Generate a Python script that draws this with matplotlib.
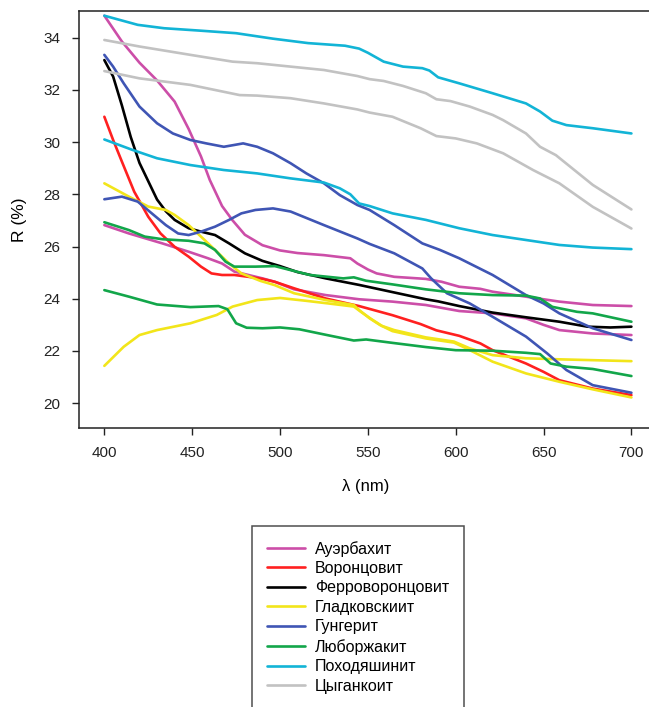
import matplotlib
matplotlib.use("Agg")
import matplotlib.pyplot as plt

plt.rcParams['font.family'] = ['Liberation Sans', 'DejaVu Sans']

# Ауэрбахит (две кривые)
wl_auer1 = [400, 410, 420, 430, 440, 448, 455, 460, 467, 473, 480, 490, 500, 510, 525, 540, 544, 550, 555,
            565, 583, 592, 602, 614, 621, 640, 659, 678, 700]
r_auer1 = [34.84, 33.85, 33.04, 32.36, 31.55, 30.5, 29.45, 28.55, 27.55, 27.0, 26.45, 26.05, 25.85, 25.75,
           25.67, 25.55, 25.35, 25.12, 24.97, 24.84, 24.76, 24.65, 24.46, 24.38, 24.27, 24.08, 23.89, 23.76, 23.72]
wl_auer2 = [400, 414, 433, 448, 459, 467, 474, 482, 490, 497, 508, 526, 545, 564, 583, 602, 621, 640, 650,
            659, 678, 700]
r_auer2 = [26.82, 26.50, 26.12, 25.80, 25.55, 25.35, 25.04, 24.91, 24.78, 24.65, 24.36, 24.14, 23.98, 23.89,
           23.76, 23.53, 23.44, 23.25, 23.0, 22.80, 22.67, 22.61]

# Воронцовит
wl_vor = [400, 405, 410, 417, 425, 432, 440, 448, 455, 461, 467, 474, 482, 490, 497, 508, 526, 545, 564,
          580, 589, 602, 614, 621, 640, 650, 659, 678, 700]
r_vor = [30.97, 30.08, 29.25, 28.1, 27.14, 26.5, 25.99, 25.61, 25.23, 24.97, 24.91, 24.91, 24.84, 24.76,
         24.65, 24.40, 24.01, 23.72, 23.37, 23.03, 22.79, 22.58, 22.29, 22.03, 21.52, 21.20, 20.88, 20.56, 20.31]

# Ферроворонцовит
wl_ferro = [400, 405, 410, 415, 420, 425, 430, 435, 440, 448, 455, 463, 471, 480, 490, 500, 510, 526, 545,
            565, 583, 590, 602, 621, 640, 659, 675, 688, 700]
r_ferro = [33.14, 32.51, 31.4, 30.2, 29.2, 28.5, 27.8, 27.35, 27.02, 26.70, 26.57, 26.44, 26.12, 25.74,
           25.45, 25.25, 25.02, 24.78, 24.53, 24.24, 23.98, 23.90, 23.72, 23.47, 23.29, 23.12, 22.93, 22.90, 22.93]

# Гладковскиит (две кривые)
wl_glad1 = [400, 414, 425, 435, 440, 448, 455, 463, 471, 478, 489, 497, 508, 526, 542, 545, 551, 557, 564,
            583, 599, 606, 621, 640, 659, 678, 700]
r_glad1 = [28.42, 27.91, 27.53, 27.40, 27.21, 26.82, 26.38, 25.87, 25.35, 24.97, 24.68, 24.52, 24.21, 23.95,
           23.76, 23.57, 23.25, 22.99, 22.76, 22.48, 22.32, 22.10, 21.59, 21.14, 20.82, 20.53, 20.22]
wl_glad2 = [400, 411, 420, 430, 449, 464, 473, 487, 500, 515, 530, 542, 546, 552, 558, 565, 583, 599, 608,
            621, 640, 659, 700]
r_glad2 = [21.43, 22.16, 22.61, 22.80, 23.06, 23.38, 23.70, 23.95, 24.03, 23.92, 23.80, 23.70, 23.50, 23.22,
           22.96, 22.80, 22.52, 22.36, 22.10, 21.84, 21.72, 21.68, 21.61]

# Гунгерит (две кривые)
wl_gung1 = [400, 405, 411, 420, 430, 439, 449, 458, 468, 474, 479, 487, 496, 506, 515, 525, 534, 544, 551,
            565, 581, 591, 602, 621, 640, 650, 659, 678, 700]
r_gung1 = [33.34, 32.89, 32.25, 31.36, 30.72, 30.33, 30.08, 29.95, 29.82, 29.89, 29.95, 29.82, 29.57, 29.19,
           28.80, 28.42, 27.97, 27.59, 27.40, 26.82, 26.12, 25.87, 25.55, 24.91, 24.14, 23.82, 23.44, 22.87, 22.42]
wl_gung2 = [400, 410, 419, 427, 435, 442, 448, 455, 463, 471, 478, 486, 496, 506, 525, 544, 551, 565, 581,
            586, 595, 608, 621, 640, 652, 663, 678, 700]
r_gung2 = [27.81, 27.91, 27.72, 27.27, 26.82, 26.50, 26.44, 26.57, 26.76, 27.02, 27.27, 27.40, 27.46, 27.34,
           26.82, 26.31, 26.1, 25.74, 25.16, 24.78, 24.21, 23.82, 23.31, 22.55, 21.91, 21.27, 20.69, 20.40]

# Люборжакит (две кривые)
wl_lub1 = [400, 414, 423, 433, 448, 457, 463, 469, 474, 486, 497, 517, 536, 542, 549, 564, 583, 602, 621,
           640, 648, 655, 669, 678, 700]
r_lub1 = [26.93, 26.63, 26.38, 26.28, 26.22, 26.12, 25.87, 25.42, 25.23, 25.23, 25.25, 24.91, 24.78, 24.82,
          24.69, 24.55, 24.36, 24.21, 24.14, 24.12, 24.01, 23.69, 23.50, 23.44, 23.12]
wl_lub2 = [400, 414, 430, 449, 465, 470, 475, 481, 490, 500, 511, 526, 542, 549, 564, 583, 600, 621, 640,
           648, 654, 663, 678, 700]
r_lub2 = [24.33, 24.08, 23.78, 23.68, 23.72, 23.6, 23.06, 22.89, 22.87, 22.90, 22.83, 22.62, 22.40, 22.44,
          22.31, 22.15, 22.03, 22.01, 21.93, 21.88, 21.52, 21.40, 21.31, 21.04]

# Походяшинит (две кривые)
wl_pox1 = [400, 419, 434, 454, 475, 496, 516, 537, 545, 550, 559, 570, 581, 585, 590, 602, 621, 640, 648,
           655, 663, 678, 700]
r_pox1 = [34.84, 34.49, 34.36, 34.27, 34.17, 33.96, 33.79, 33.69, 33.58, 33.42, 33.08, 32.89, 32.83, 32.74,
          32.48, 32.25, 31.87, 31.48, 31.17, 30.82, 30.65, 30.53, 30.33]
wl_pox2 = [400, 416, 430, 449, 468, 487, 506, 525, 534, 540, 545, 551, 564, 583, 602, 621, 640, 659, 678, 700]
r_pox2 = [30.10, 29.70, 29.38, 29.12, 28.93, 28.80, 28.61, 28.45, 28.23, 28.0, 27.65, 27.55, 27.27, 27.02,
          26.70, 26.44, 26.25, 26.06, 25.96, 25.90]

# Цыганкоит (две кривые)
wl_cyg1 = [400, 420, 449, 473, 487, 506, 525, 544, 551, 559, 570, 583, 589, 597, 608, 621, 627, 640, 648,
           657, 678, 700]
r_cyg1 = [33.91, 33.66, 33.34, 33.08, 33.02, 32.89, 32.76, 32.53, 32.41, 32.34, 32.15, 31.87, 31.64, 31.57,
          31.36, 31.04, 30.84, 30.33, 29.82, 29.50, 28.36, 27.42]
wl_cyg2 = [400, 420, 449, 477, 487, 506, 525, 544, 551, 564, 580, 589, 600, 612, 627, 644, 659, 678, 700]
r_cyg2 = [32.72, 32.44, 32.19, 31.80, 31.78, 31.68, 31.48, 31.25, 31.13, 30.97, 30.53, 30.23, 30.14, 29.95,
          29.57, 28.93, 28.42, 27.52, 26.69]

mineraly = ["Ауэрбахит", "Воронцовит", "Ферроворонцовит", "Гладковскиит",
            "Гунгерит", "Люборжакит", "Походяшинит", "Цыганкоит"]
colores = ["#cc4ea8", "#ff2020", "#000000", "#f2e51a", "#3f55b4", "#12a64a", "#12b4d6", "#c2c2c2"]

curvas = {
    "Ауэрбахит": [(wl_auer1, r_auer1), (wl_auer2, r_auer2)],
    "Воронцовит": [(wl_vor, r_vor)],
    "Ферроворонцовит": [(wl_ferro, r_ferro)],
    "Гладковскиит": [(wl_glad1, r_glad1), (wl_glad2, r_glad2)],
    "Гунгерит": [(wl_gung1, r_gung1), (wl_gung2, r_gung2)],
    "Люборжакит": [(wl_lub1, r_lub1), (wl_lub2, r_lub2)],
    "Походяшинит": [(wl_pox1, r_pox1), (wl_pox2, r_pox2)],
    "Цыганкоит": [(wl_cyg1, r_cyg1), (wl_cyg2, r_cyg2)],
}

W, H = 649, 707
fig = plt.figure(figsize=(W / 100, H / 100), dpi=100)
ax = fig.add_axes([78.7 / W, 1 - 428 / H, (652.5 - 78.7) / W, (428 - 11) / H])

lineas = []
for nombre, color in zip(mineraly, colores):
    for i, (wl, r) in enumerate(curvas[nombre]):
        ln, = ax.plot(wl, r, color=color, lw=1.9, solid_capstyle='round', solid_joinstyle='round')
        if i == 0:
            lineas.append(ln)

ax.set_xlim(385.4, 712)
ax.set_ylim(19.05, 35.02)
ax.set_xticks([400, 450, 500, 550, 600, 650, 700])
ax.set_yticks([20, 22, 24, 26, 28, 30, 32, 34])
ax.tick_params(direction='out', length=5, width=1, labelsize=11, pad=8, colors='#222222')
for s in ax.spines.values():
    s.set_linewidth(1.1)
    s.set_color('#222222')

ax.set_xlabel("λ (nm)", fontsize=12, labelpad=14)
ax.set_ylabel("R (%)", fontsize=12.5, labelpad=12)

# leyenda abajo, recortada por el borde como en el original
leg = fig.legend(lineas, mineraly, loc='upper left', bbox_to_anchor=(252 / W, 1 - 526 / H),
                 borderaxespad=0, fontsize=11.5, frameon=True, fancybox=False,
                 edgecolor='#222222', handlelength=2.4, handletextpad=0.62,
                 labelspacing=0.28, borderpad=0.92)
leg.get_frame().set_linewidth(1.1)

fig.savefig("out.png", dpi=100)
